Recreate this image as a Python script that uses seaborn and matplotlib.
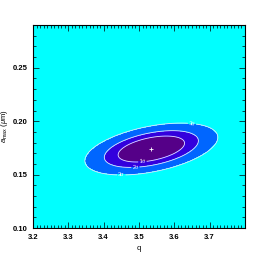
import numpy as np
import pandas as pd
import seaborn as sns
import matplotlib.pyplot as plt
import matplotlib.ticker as ticker

# best fit and chi2 surface parameters
best_q = [3.535]
best_amax = [0.174]
sigma_q = 0.062
sigma_amax = 0.0080
rho = 0.45
dchi2_levels = [2.30, 4.61, 9.21]
level_labels = ['1\u03c3', '2\u03c3', '3\u03c3']
fill_colors = ['#550088', '#3300DD', '#0066FF', '#00FFFF']

q_grid = np.linspace(3.2, 3.8, 400)
a_grid = np.linspace(0.10, 0.29, 400)

sns.set_theme(style="ticks")
plt.rcParams['font.family'] = ['Liberation Sans', 'DejaVu Sans']
plt.rcParams['mathtext.fontset'] = 'custom'
plt.rcParams['mathtext.rm'] = 'Liberation Sans'
plt.rcParams['mathtext.it'] = 'Liberation Sans:italic'
plt.rcParams['xtick.direction'] = 'in'
plt.rcParams['ytick.direction'] = 'in'

Q, A = np.meshgrid(q_grid, a_grid)
dq = (Q - best_q[0]) / sigma_q
da = (A - best_amax[0]) / sigma_amax
dchi2 = (dq**2 - 2 * rho * dq * da + da**2) / (1 - rho**2)

fig = plt.figure(figsize=(2.66, 2.61), dpi=100)
ax = fig.add_axes([0.124, 0.126, 0.797, 0.778])
ax.set_axisbelow(False)

ax.contourf(Q, A, dchi2, levels=[0] + dchi2_levels + [1e9], colors=fill_colors)
cs = ax.contour(Q, A, dchi2, levels=dchi2_levels, colors='#E8E0FF', linewidths=0.6)
fmt = dict(zip(dchi2_levels, level_labels))
ax.clabel(cs, fmt=fmt, fontsize=4, colors='white', inline=True, inline_spacing=1,
          manual=[(3.51, 0.161), (3.49, 0.157), (3.45, 0.152), (3.65, 0.197)])

best_df = pd.DataFrame({'q': best_q, 'amax': best_amax})
sns.scatterplot(data=best_df, x='q', y='amax', marker='+', color='white', s=8,
                linewidth=0.6, ax=ax, zorder=5)

ax.set_xlim(3.2, 3.8)
ax.set_ylim(0.10, 0.29)
ax.set_xticks([3.2, 3.3, 3.4, 3.5, 3.6, 3.7])
ax.set_yticks([0.10, 0.15, 0.20, 0.25])
ax.xaxis.set_major_formatter(ticker.FormatStrFormatter('%.1f'))
ax.yaxis.set_major_formatter(ticker.FormatStrFormatter('%.2f'))
ax.xaxis.set_minor_locator(ticker.MultipleLocator(0.01))
ax.yaxis.set_minor_locator(ticker.MultipleLocator(0.01))
ax.tick_params(which='both', top=True, right=True, labelsize=5.5, pad=4,
               width=0.5, color='black', labelcolor='black')
ax.tick_params(which='major', length=4)
ax.tick_params(which='minor', length=2)
for s in ax.spines.values():
    s.set_linewidth(0.8)
    s.set_color('black')
for lab in ax.get_xticklabels() + ax.get_yticklabels():
    lab.set_fontweight('bold')

ax.set_xlabel('q', fontsize=5.5, labelpad=3, color='black')
ax.set_ylabel(r'$a_{\rm max}$ ($\mu$m)', fontsize=5.5, labelpad=2, color='black')

fig.savefig('out.png', dpi=100)
